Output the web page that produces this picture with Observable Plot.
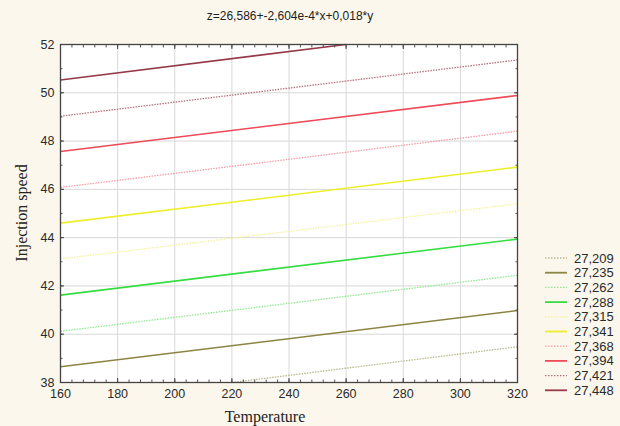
<!DOCTYPE html>
<html>
<head>
<meta charset="utf-8">
<script src="https://cdn.jsdelivr.net/npm/d3@7"></script>
<script src="https://cdn.jsdelivr.net/npm/@observablehq/plot@0.6"></script>
<style>
  html, body { margin: 0; padding: 0; background: #fcf7ec; }
  #chart { width: 620px; height: 426px; }
</style>
</head>
<body>
<div id="chart"></div>
<script>
// Contour levels (legend order, bottom to top)
const levels = ["27,209","27,235","27,262","27,288","27,315","27,341","27,368","27,394","27,421","27,448"];
// Visible line endpoints (Temperature, Injection speed)
const xStart = [220, 160, 160, 160, 160, 160, 160, 160, 160, 160];
const yStart = [38.0, 38.65, 40.12, 41.62, 43.12, 44.6, 46.08, 47.57, 49.03, 50.53];
const xEnd   = [320, 320, 320, 320, 320, 320, 320, 320, 320, 259.8];
const yEnd   = [39.48, 40.98, 42.44, 43.94, 45.4, 46.92, 48.41, 49.89, 51.36, 52.0];
const dashed = [true, false, true, false, true, false, true, false, true, false];
const colors = ["#b9b88f","#8c8442","#8fe98f","#35dd40","#f7f29a","#eeee2a","#f49ca3","#ee4a58","#b5727f","#963a49"];

const xTicks = [160,180,200,220,240,260,280,300,320];
const yTicks = [38,40,42,44,46,48,50,52];
const title = "z=26,586+-2,604e-4*x+0,018*y";

const segs = levels.map((l, i) => ({level: l, x1: xStart[i], y1: yStart[i], x2: xEnd[i], y2: yEnd[i], dashed: dashed[i], color: colors[i]}));

const xMinor = d3.range(160, 320.001, 4);
const yMinor = d3.range(38, 52.001, 1);

const W = 620, H = 426;
const chart = Plot.plot({
  width: W, height: H,
  marginLeft: 60, marginRight: 103, marginTop: 44, marginBottom: 44,
  style: {background: "transparent", fontFamily: "'Liberation Sans', Arial, sans-serif", fontSize: "12px", color: "#333"},
  x: {domain: [160, 320]},
  y: {domain: [38, 52]},
  marks: [
    Plot.frame({fill: "white", stroke: null}),
    Plot.gridX(xTicks.slice(1, -1), {stroke: "#d8d8d8", strokeOpacity: 1}),
    Plot.gridY(yTicks.slice(1, -1), {stroke: "#d8d8d8", strokeOpacity: 1}),
    Plot.link(segs.filter(d => d.dashed), {x1: "x1", y1: "y1", x2: "x2", y2: "y2", stroke: "color", strokeWidth: 1.3, strokeDasharray: "1.5,1.2"}),
    Plot.link(segs.filter(d => !d.dashed), {x1: "x1", y1: "y1", x2: "x2", y2: "y2", stroke: "color", strokeWidth: 1.6}),
    Plot.axisX({ticks: xTicks, tickSize: 0, tickPadding: 7, label: null, fill: "#2a2a2a", fontSize: 12.5}),
    Plot.axisY({ticks: yTicks, tickSize: 0, tickPadding: 6, label: null, fill: "#2a2a2a", fontSize: 12.5}),
    Plot.axisX({anchor: "bottom", ticks: xMinor, tickSize: -2.5, text: null, label: null, stroke: "#555"}),
    Plot.axisX({anchor: "bottom", ticks: xTicks, tickSize: -4, text: null, label: null, stroke: "#444"}),
    Plot.axisX({anchor: "top", ticks: xMinor, tickSize: -2.5, text: null, label: null, stroke: "#555"}),
    Plot.axisX({anchor: "top", ticks: xTicks, tickSize: -4, text: null, label: null, stroke: "#444"}),
    Plot.axisY({anchor: "left", ticks: yMinor, tickSize: -2.5, text: null, label: null, stroke: "#555"}),
    Plot.axisY({anchor: "left", ticks: yTicks, tickSize: -4, text: null, label: null, stroke: "#444"}),
    Plot.axisY({anchor: "right", ticks: yMinor, tickSize: -2.5, text: null, label: null, stroke: "#555"}),
    Plot.axisY({anchor: "right", ticks: yTicks, tickSize: -4, text: null, label: null, stroke: "#444"}),
    Plot.frame({stroke: "#444", strokeWidth: 1.3})
  ]
});
document.getElementById("chart").appendChild(chart);

const svg = d3.select(chart);
// Title
svg.append("text").attr("x", 290).attr("y", 20).attr("text-anchor", "middle")
  .attr("font-family", "'Liberation Sans', Arial, sans-serif").attr("font-size", 12).attr("fill", "#222")
  .text(title);
// Axis labels
svg.append("text").attr("x", 265).attr("y", 422).attr("text-anchor", "middle")
  .attr("font-family", "'Liberation Serif', 'Times New Roman', serif").attr("font-size", 16).attr("fill", "#222")
  .text("Temperature");
svg.append("text").attr("transform", "translate(27,213) rotate(-90)").attr("text-anchor", "middle")
  .attr("font-family", "'Liberation Serif', 'Times New Roman', serif").attr("font-size", 16).attr("fill", "#222")
  .text("Injection speed");
// Legend
const lg = svg.append("g");
segs.forEach((d, i) => {
  const y = 258 + i * 14.7;
  lg.append("line").attr("x1", 545).attr("x2", 567).attr("y1", y).attr("y2", y)
    .attr("stroke", d.color).attr("stroke-width", d.dashed ? 1.3 : 1.8)
    .attr("stroke-dasharray", d.dashed ? "1.5,1.5" : null);
  lg.append("text").attr("x", 574).attr("y", y).attr("dy", "0.35em").attr("text-anchor", "start")
    .attr("font-family", "'Liberation Sans', Arial, sans-serif").attr("font-size", 13).attr("fill", "#2a2a2a")
    .text(d.level);
});
</script>
</body>
</html>
